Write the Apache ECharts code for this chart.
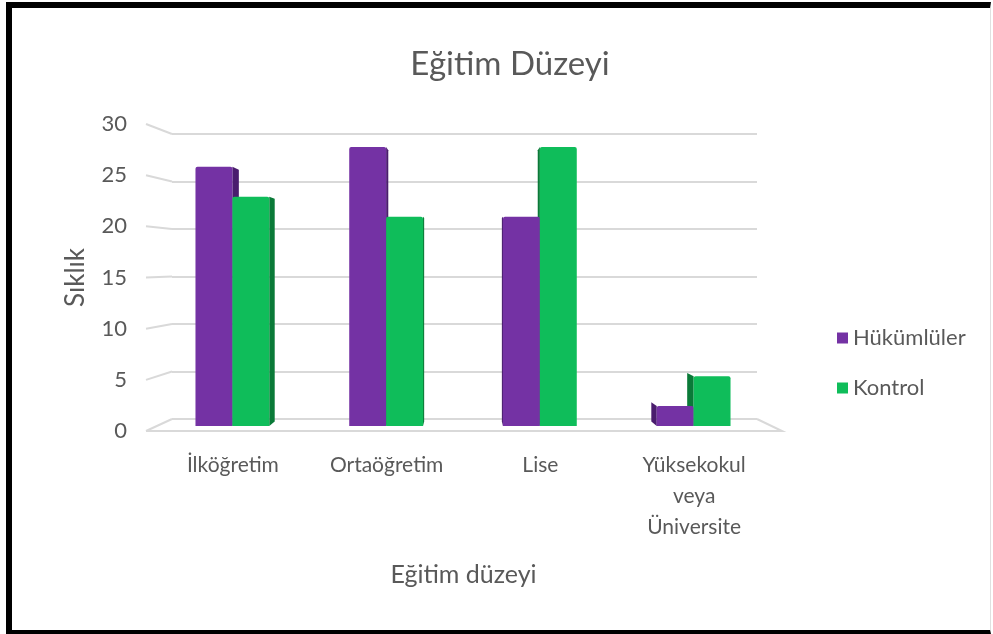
<!DOCTYPE html>
<html>
<head>
<meta charset="utf-8">
<script src="https://cdn.jsdelivr.net/npm/echarts@6/dist/echarts.min.js"></script>
<style>
  html, body { margin: 0; padding: 0; background: #fff; }
  #wrap { position: relative; width: 993px; height: 634px; }
  #chart { position: absolute; left: 0; top: 0; width: 993px; height: 634px; }
  #frame {
    position: absolute; left: 6px; top: 2px; right: 2px; bottom: 0;
    border-top: 6px solid #000; border-left: 6px solid #000;
    border-bottom: 4px solid #000; border-right: 1px solid #e0e0e0;
    pointer-events: none;
  }
</style>
</head>
<body>
<div id="wrap">
  <div id="chart"></div>
  <div id="frame"></div>
</div>
<script>
// veri
const categories = ['İlköğretim', 'Ortaöğretim', 'Lise', 'Yüksekokul\nveya\nÜniversite'];
const seriesNames = ['Hükümlüler', 'Kontrol'];
const hukumluler = [26, 28, 21, 2];
const kontrol = [23, 21, 28, 5];
const yTicks = [0, 5, 10, 15, 20, 25, 30];

const FONT = 'Lato, "Open Sans", sans-serif';
const TXT = '#595959';
const GRID_LINE = '#d9d9d9';
const FRONT = ['#7432a4', '#0fbd5a'];
const SIDE = ['#4a1d6e', '#0a7a38'];

const chart = echarts.init(document.getElementById('chart'));

// 3D görünüm: ön yüz + perspektif yan yüz
function renderBar(sIdx) {
    return function (params, api) {
        const cat = api.value(0);
        const val = api.value(1);
        const top = api.coord([cat, val]);
        const base = api.coord([cat, 0]);
        const band = api.size([1, 0])[0];
        const w = band * 0.24;
        const xl = sIdx === 0 ? top[0] - w - 0.5 : top[0] - 0.5;
        const xr = xl + w;
        const cs = params.coordSys;
        const vx = cs.x + cs.width / 2;
        const hy = cs.y + cs.height * 0.47;
        const k = 0.028;
        let sideX, backX;
        if (xr <= vx) { sideX = xr; backX = xr + k * (vx - xr); }
        else { sideX = xl; backX = xl - k * (xl - vx); }
        const yt = top[1], yb = base[1];
        const byt = yt + k * (hy - yt);
        const byb = yb + k * (hy - yb);
        return {
            type: 'group',
            children: [
                {
                    type: 'polygon',
                    z2: 1,
                    shape: { points: [[sideX, yt], [backX, byt], [backX, byb], [sideX, yb]] },
                    style: { fill: SIDE[sIdx] }
                },
                {
                    type: 'rect',
                    z2: 5,
                    shape: { x: xl, y: yt, width: w, height: yb - yt, r: [2, 2, 0, 0] },
                    style: { fill: api.visual('color') }
                }
            ]
        };
    };
}

const option = {
    animation: false,
    title: {
        text: 'Eğitim Düzeyi',
        left: 505,
        textAlign: 'center',
        top: 43,
        textStyle: { color: TXT, fontSize: 33, fontWeight: 'normal', fontFamily: FONT }
    },
    legend: {
        orient: 'vertical',
        left: 832,
        top: 322,
        itemGap: 28,
        itemWidth: 11,
        itemHeight: 11,
        icon: 'rect',
        data: seriesNames,
        textStyle: { color: TXT, fontSize: 22, fontFamily: FONT }
    },
    grid: [
        // arka duvar (yatay kılavuz çizgileri)
        { left: 172, right: 236, top: 134, bottom: 215 },
        // çubuklar
        { left: 156, right: 222, top: 127, bottom: 208 },
        // eksen etiketleri
        { left: 146, right: 236, top: 124, bottom: 203 }
    ],
    xAxis: [
        { gridIndex: 0, type: 'category', data: categories, show: false },
        {
            gridIndex: 1, type: 'category', data: categories,
            axisLine: { show: false }, axisTick: { show: false },
            axisLabel: { margin: 24, color: TXT, fontSize: 21, lineHeight: 31, fontFamily: FONT, interval: 0 },
            name: 'Eğitim düzeyi', nameLocation: 'middle', nameGap: 136,
            nameTextStyle: { color: TXT, fontSize: 25, fontFamily: FONT }
        },
        { gridIndex: 2, type: 'category', data: categories, show: false }
    ],
    yAxis: [
        {
            gridIndex: 0, type: 'value', min: 0, max: 30, interval: 5,
            axisLine: { show: false }, axisTick: { show: false }, axisLabel: { show: false },
            splitLine: { show: true, lineStyle: { color: GRID_LINE, width: 2 } }
        },
        {
            gridIndex: 1, type: 'value', min: 0, max: 30, interval: 5,
            show: false, splitLine: { show: false }
        },
        {
            gridIndex: 2, type: 'value', min: 0, max: 30, interval: 5,
            axisLine: { show: false }, axisTick: { show: false },
            splitLine: { show: false },
            axisLabel: { margin: 19, color: TXT, fontSize: 22, fontFamily: FONT },
            name: 'Sıklık', nameLocation: 'middle', nameGap: 57, nameRotate: 90,
            nameTextStyle: { color: TXT, fontSize: 26, fontFamily: FONT }
        }
    ],
    series: [
        {
            name: seriesNames[0], type: 'custom', xAxisIndex: 1, yAxisIndex: 1,
            itemStyle: { color: FRONT[0] },
            renderItem: renderBar(0),
            encode: { x: 0, y: 1 },
            data: hukumluler.map((v, i) => [i, v])
        },
        {
            name: seriesNames[1], type: 'custom', xAxisIndex: 1, yAxisIndex: 1,
            itemStyle: { color: FRONT[1] },
            renderItem: renderBar(1),
            encode: { x: 0, y: 1 },
            data: kontrol.map((v, i) => [i, v])
        }
    ]
};

chart.setOption(option);

// perspektif kılavuz uçları ve taban, eksen ölçeklerinden
const g0 = chart.getModel().getComponent('grid', 0).coordinateSystem.getRect();
const g2 = chart.getModel().getComponent('grid', 2).coordinateSystem.getRect();
const graphics = yTicks.map(v => {
    const yBack = chart.convertToPixel({ yAxisIndex: 0 }, v);
    const yFront = chart.convertToPixel({ yAxisIndex: 2 }, v);
    return {
        type: 'polyline', z: 0, silent: true,
        shape: { points: [[g2.x, yFront], [g0.x, yBack]] },
        style: { stroke: GRID_LINE, lineWidth: 2, fill: null }
    };
});
const yBack0 = chart.convertToPixel({ yAxisIndex: 0 }, 0);
const yFront0 = chart.convertToPixel({ yAxisIndex: 2 }, 0);
const floorRight = g0.x + g0.width + 25;
graphics.push({
    type: 'polyline', z: 0, silent: true,
    shape: { points: [[g2.x, yFront0], [floorRight, yFront0], [g0.x + g0.width, yBack0]] },
    style: { stroke: GRID_LINE, lineWidth: 2, fill: null }
});
chart.setOption({ graphic: graphics });
</script>
</body>
</html>
